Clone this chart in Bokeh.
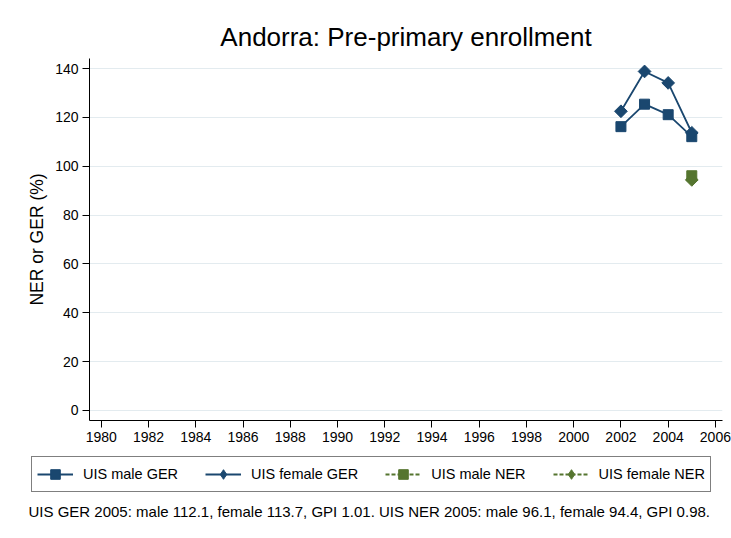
from bokeh.plotting import figure
from bokeh.models import Legend, LegendItem, Title, FixedTicker, Range1d, Label
from bokeh.layouts import column
from bokeh.embed import file_html
from bokeh.resources import INLINE
import math

# ---- data ----
years_ger = [2002, 2003, 2004, 2005]
male_ger = [116.2, 125.4, 121.1, 112.1]
female_ger = [122.5, 138.8, 134.1, 113.7]
years_ner = [2005]
male_ner = [96.1]
female_ner = [94.4]
x_ticks = list(range(1980, 2007, 2))
y_ticks = [0, 20, 40, 60, 80, 100, 120, 140]
series_labels = ["UIS male GER", "UIS female GER", "UIS male NER", "UIS female NER"]
title_text = "Andorra: Pre-primary enrollment"
note_text = "UIS GER 2005: male 112.1, female 113.7, GPI 1.01. UIS NER 2005: male 96.1, female 94.4, GPI 0.98."

NAVY = "#1a476f"
GREEN = "#55752f"
FONT = "Liberation Sans"
W = 731

# ---------------- main chart ----------------
p = figure(width=W, height=448, output_backend="svg", toolbar_location=None,
           x_range=Range1d(1979.5, 2006.3), y_range=Range1d(-4.1, 144.1),
           min_border_left=89, min_border_top=58, min_border_bottom=28, min_border_right=9)
p.frame_align = False
p.outline_line_color = None
p.background_fill_color = "white"
p.border_fill_color = "white"

p.xaxis.ticker = FixedTicker(ticks=x_ticks)
p.yaxis.ticker = FixedTicker(ticks=y_ticks)
for ax in (p.xaxis[0], p.yaxis[0]):
    ax.major_label_text_font = FONT
    ax.major_label_text_font_size = "14px"
    ax.major_label_text_color = "black"
    ax.axis_line_color = "black"
    ax.major_tick_line_color = "black"
    ax.major_tick_out = 7
    ax.major_tick_in = 0
    ax.minor_tick_line_color = None
    ax.major_label_standoff = 4
p.yaxis.major_label_orientation = "horizontal"
p.yaxis.axis_label = "NER or GER (%)"
p.yaxis.axis_label_text_font = FONT
p.yaxis.axis_label_text_font_size = "17.5px"
p.yaxis.axis_label_text_font_style = "normal"
p.yaxis.axis_label_text_color = "black"
p.yaxis.axis_label_standoff = 5

p.xgrid.grid_line_color = None
p.ygrid.grid_line_color = "#e3ebef"
p.ygrid.grid_line_width = 1

p.line(years_ger, male_ger, color=NAVY, line_width=1.8)
p.scatter(years_ger, male_ger, marker="square", size=10, color=NAVY)
p.line(years_ger, female_ger, color=NAVY, line_width=1.8)
p.scatter(years_ger, female_ger, marker="square", size=9, angle=math.pi / 4, color=NAVY)
p.scatter(years_ner, male_ner, marker="square", size=10, color=GREEN)
p.scatter(years_ner, female_ner, marker="square", size=9, angle=math.pi / 4, color=GREEN)

p.add_layout(Title(text=title_text, align="center", text_font=FONT, text_font_size="26px",
                   text_font_style="normal", text_color="black", standoff=14), "above")

# ---------------- legend + note strip ----------------
q = figure(width=W, height=90, output_backend="svg", toolbar_location=None,
           x_range=Range1d(0, W), y_range=Range1d(0, 90),
           min_border_left=0, min_border_right=0, min_border_top=0, min_border_bottom=0)
q.frame_align = False
q.axis.visible = False
q.grid.visible = False
q.outline_line_color = None
q.background_fill_color = "white"
q.border_fill_color = "white"

series = [
    (years_ger, male_ger, NAVY, "solid", "square"),
    (years_ger, female_ger, NAVY, "solid", "diamond"),
    (years_ner, male_ner, GREEN, "4 2", "square"),
    (years_ner, female_ner, GREEN, "4 2", "diamond"),
]
items = []
for lab, (xs, ys, c, dash, mk) in zip(series_labels, series):
    # legend keys only (hidden in this strip)
    lr = q.line(xs, ys, color=c, line_width=1.8, line_dash=dash, visible=False)
    sr = q.scatter(xs, ys, marker=mk, size=10, color=c, visible=False)
    items.append(LegendItem(label=lab, renderers=[lr, sr]))

legend = Legend(items=items, orientation="horizontal", location=(31, 46))
legend.label_text_font = FONT
legend.label_text_font_size = "14.5px"
legend.label_text_color = "black"
legend.glyph_width = 36
legend.glyph_height = 24
legend.label_height = 20
legend.label_standoff = 10
legend.spacing = 27
legend.padding = 5
legend.margin = 0
legend.border_line_color = "black"
legend.border_line_width = 1
legend.background_fill_color = "white"
legend.background_fill_alpha = 1
legend.click_policy = "none"
q.add_layout(legend)

q.add_layout(Label(x=28, y=27, text=note_text, text_font=FONT, text_font_size="15px",
                   text_align="left", text_baseline="alphabetic", text_color="black"))

layout = column(p, q, spacing=0)
open("out.html", "w").write(file_html(layout, INLINE))
